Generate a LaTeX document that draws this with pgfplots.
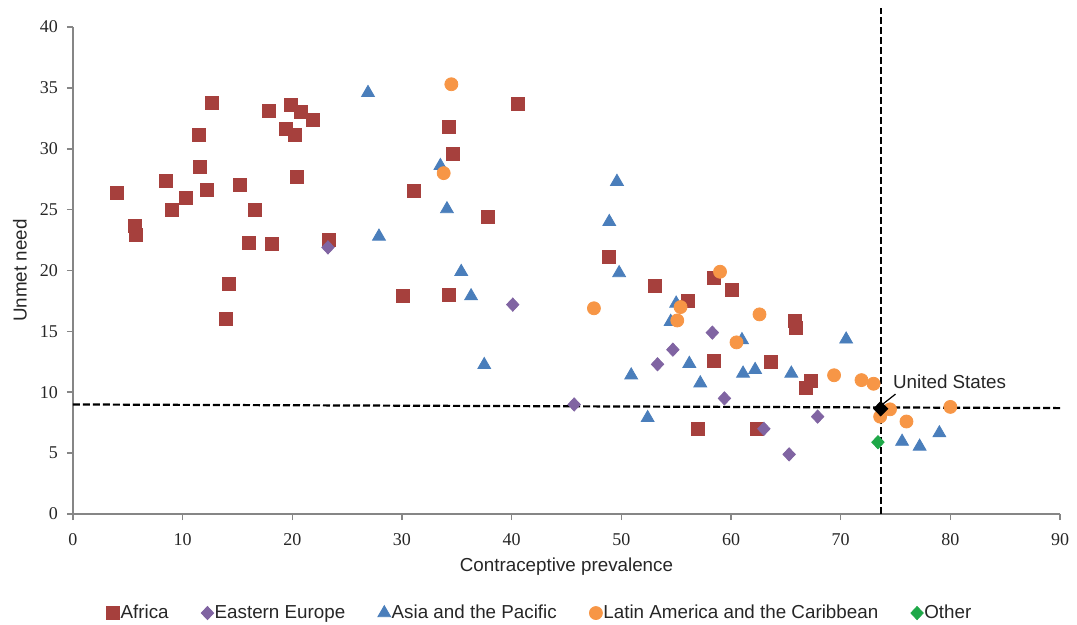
\documentclass[border=0pt]{standalone}
\usepackage{fontspec}
\setmainfont{Liberation Sans}
\newfontfamily\serifnum{Liberation Serif}
\usepackage{pgfplots}
\pgfplotsset{compat=1.18}
\definecolor{afr}{RGB}{166,64,61}
\definecolor{eeu}{RGB}{128,100,162}
\definecolor{asi}{RGB}{74,126,187}
\definecolor{lat}{RGB}{247,150,70}
\definecolor{oth}{RGB}{30,168,72}
\definecolor{axgray}{RGB}{134,134,134}
\definecolor{txt}{RGB}{38,38,38}
\begin{document}
\begin{tikzpicture}
\begin{axis}[
  scale only axis, width=493.5pt, height=243.5pt,
  xmin=0, xmax=90, ymin=0, ymax=40,
  xtick={0,10,...,90}, ytick={0,5,...,40},
  axis x line*=bottom, axis y line*=left,
  axis line style={draw=axgray, line width=1pt},
  tick style={draw=axgray, line width=0.8pt},
  tick align=outside, major tick length=3pt,
  clip=false,
  ticklabel style={font=\serifnum\fontsize{9}{10}\selectfont, text=txt},
  xticklabel style={yshift=-3pt},
  yticklabel style={xshift=-1pt},
  /pgf/number format/assume math mode=true,
  xlabel={Contraceptive prevalence}, ylabel={Unmet need},
  label style={font=\fontsize{9.4}{11}\selectfont, text=txt},
  xlabel style={at={(axis description cs:0.5,-0.107)}, anchor=center},
  ylabel style={at={(axis description cs:-0.0537,0.5)}, anchor=center},
  legend columns=5,
  legend style={draw=none, fill=none, at={(axis description cs:0.4726,-0.2033)}, anchor=center,
    font=\fontsize{9.4}{11}\selectfont, text=txt, inner sep=0pt,
    nodes={inner sep=0.5pt}, /tikz/every even column/.append style={column sep=15.8pt}},
  legend image code/.code={\draw[#1] plot coordinates {(0pt,0pt)};},
]
\addplot[only marks, mark=square*, mark size=3.25pt, color=afr] coordinates {
(4.0,26.4) (5.65,23.7) (5.75,22.9) (8.5,27.4) (9.0,25.0) (10.3,26.0) (11.5,31.1) (11.6,28.5)
(12.2,26.6) (12.7,33.8) (13.95,16.0) (14.2,18.9) (15.2,27.0) (16.05,22.3) (16.6,25.0) (17.9,33.1)
(18.1,22.2) (19.4,31.6) (19.9,33.6) (20.2,31.1) (20.4,27.7) (20.8,33.0) (21.9,32.4) (23.3,22.5)
(30.1,17.9) (31.1,26.5) (34.3,31.8) (34.3,18.0) (34.65,29.6) (37.8,24.4) (40.6,33.7) (48.9,21.1)
(53.1,18.7) (56.1,17.5) (57.0,7.0) (58.4,19.4) (58.4,12.6) (60.1,18.4) (62.4,7.0) (63.6,12.5)
(65.8,15.9) (65.9,15.3) (66.8,10.4) (67.3,10.9)
};
\addlegendentry{Africa}
\addplot[only marks, mark=diamond*, mark size=3.3pt, mark options={xscale=1.25}, color=eeu] coordinates {
(23.25,21.9) (40.1,17.2) (45.7,9.0) (53.3,12.3) (54.7,13.5) (58.3,14.9) (59.4,9.5) (63.0,7.0)
(65.3,4.9) (67.9,8.0)
};
\addlegendentry{Eastern Europe}
\addplot[only marks, mark=triangle*, mark size=3.7pt, color=asi] coordinates {
(26.9,34.6) (27.9,22.8) (33.5,28.6) (34.1,25.05) (35.4,19.9) (36.3,17.9) (37.5,12.25) (48.9,24.0)
(49.6,27.3) (49.8,19.8) (50.9,11.4) (52.4,7.9) (54.5,15.8) (55.0,17.3) (56.2,12.35) (57.2,10.75)
(61.0,14.3) (61.1,11.55) (62.2,11.85) (65.5,11.55) (70.5,14.35) (75.6,5.95) (77.2,5.55) (79.0,6.65)
};
\addlegendentry{Asia and the Pacific}
\addplot[only marks, mark=*, mark size=3.25pt, color=lat] coordinates {
(34.5,35.3) (33.8,28.0) (47.5,16.9) (55.1,15.9) (55.4,17.0) (59.0,19.9) (60.5,14.1) (62.6,16.4)
(69.4,11.4) (71.9,11.0) (73.0,10.7) (73.6,8.0) (74.5,8.6) (76.0,7.6) (80.0,8.8)
};
\addlegendentry{Latin America and the Caribbean}
\addplot[only marks, mark=diamond*, mark size=3.3pt, mark options={xscale=1.25}, color=oth] coordinates {
(73.4,5.9)
};
\addlegendentry{Other}
\addplot[forget plot, black, line width=1.1pt, dash pattern=on 3.5pt off 1.5pt] coordinates {(0,9.0) (90,8.7)};
\addplot[forget plot, black, line width=1.1pt, dash pattern=on 3.5pt off 1.5pt] coordinates {(73.65,0) (73.65,41.6)};
\addplot[forget plot, only marks, mark=diamond*, mark size=3.6pt, mark options={xscale=1.3}, color=black] coordinates {(73.65,8.65)};
\draw[black, line width=0.6pt] (axis cs:73.8,9.0) -- (axis cs:75.0,9.85);
\node[anchor=west, inner sep=0pt, font=\fontsize{9.4}{11}\selectfont, text=txt] at (axis cs:74.75,10.85) {United States};
\coordinate (bl) at (axis cs:-6.656,-9.035);
\coordinate (tr) at (axis cs:91.55,42.22);
\end{axis}
\pgfresetboundingbox
\path (bl) rectangle (tr);
\end{tikzpicture}
\end{document}
